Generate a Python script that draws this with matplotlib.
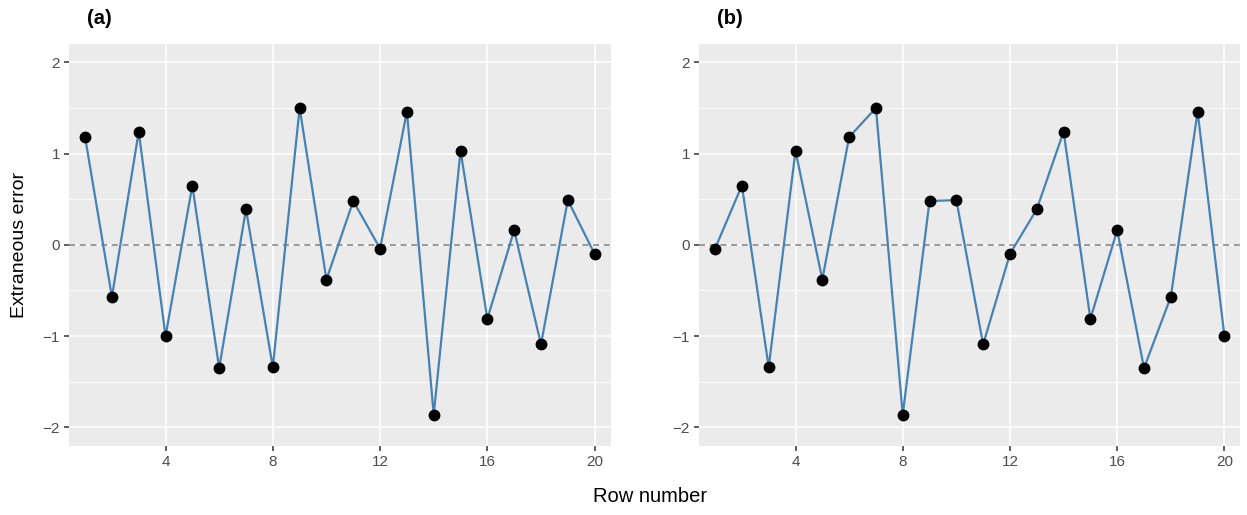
import numpy as np
import matplotlib.pyplot as plt

plt.rcParams['font.family'] = ['Liberation Sans', 'DejaVu Sans']

rows = np.arange(1, 21)
err_a = [1.18, -0.57, 1.24, -1.00, 0.65, -1.35, 0.39, -1.34, 1.50, -0.38,
         0.48, -0.04, 1.46, -1.86, 1.03, -0.81, 0.16, -1.09, 0.49, -0.10]
err_b = [-0.04, 0.65, -1.34, 1.03, -0.38, 1.18, 1.50, -1.86, 0.48, 0.49,
         -1.09, -0.10, 0.39, 1.24, -0.81, 0.16, -1.35, -0.57, 1.46, -1.00]
panels = ["(a)", "(b)"]
x_ticks = [4, 8, 12, 16, 20]
y_ticks = [-2, -1, 0, 1, 2]

W, H = 1247, 515
fig = plt.figure(figsize=(W / 100, H / 100), dpi=100)

boxes = [(69, 44, 610.7, 445.7), (699, 44, 1240.5, 445.7)]
for (x0, y0, x1, y1), vals, lab in zip(boxes, [err_a, err_b], panels):
    ax = fig.add_axes([x0 / W, 1 - y1 / H, (x1 - x0) / W, (y1 - y0) / H])
    ax.set_facecolor("#EBEBEB")
    for s in ax.spines.values():
        s.set_visible(False)
    ax.set_xlim(0.4, 20.6)
    ax.set_ylim(-2.2, 2.2)
    ax.set_xticks(x_ticks)
    ax.set_yticks(y_ticks)
    ax.set_yticklabels(["\u22122", "\u22121", "0", "1", "2"])
    ax.set_yticks([-1.5, -0.5, 0.5, 1.5], minor=True)
    ax.tick_params(which="minor", left=False)
    ax.grid(which="major", color="white", lw=1.1)
    ax.grid(which="minor", axis="y", color="white", lw=0.55)
    ax.set_axisbelow(True)
    ax.tick_params(which="major", length=3.5, width=1.1, color="#333333",
                   labelcolor="#4D4D4D", labelsize=11, pad=3)
    ax.axhline(0, color="#7F7F7F", lw=1.1, ls=(0, (4, 3)), zorder=2)
    ax.plot(rows, vals, color="#4682B4", lw=1.6, zorder=3)
    ax.plot(rows, vals, "o", color="black", ms=7.5, zorder=4)
    fig.text((x0 + 18) / W, 1 - 19 / H, lab, fontsize=14.5, fontweight="bold",
             ha="left", va="center")

fig.text(650 / W, 1 - 497 / H, "Row number", fontsize=14.5, ha="center", va="center")
fig.text(20 / W, 1 - 245 / H, "Extraneous error", fontsize=14, rotation=90,
         ha="center", va="center")

fig.savefig("out.png", dpi=100)
